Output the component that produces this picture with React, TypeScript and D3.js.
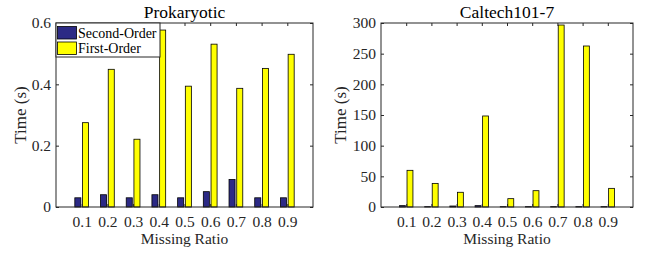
import React, { useRef, useEffect } from "react";
import { select, scaleLinear, axisBottom, axisLeft, axisTop, axisRight } from "d3";

const ratios = [0.1, 0.2, 0.3, 0.4, 0.5, 0.6, 0.7, 0.8, 0.9];
const ratioLabels = ["0.1", "0.2", "0.3", "0.4", "0.5", "0.6", "0.7", "0.8", "0.9"];

const seriesNames = ["Second-Order", "First-Order"];
const seriesColors = ["#2c2a85", "#ffff00"];

const prokSecond = [0.03, 0.04, 0.03, 0.04, 0.03, 0.05, 0.09, 0.03, 0.03];
const prokFirst = [0.275, 0.449, 0.221, 0.577, 0.394, 0.531, 0.387, 0.452, 0.498];
const prokTicks = [0, 0.2, 0.4, 0.6];
const prokTickLabels = ["0", "0.2", "0.4", "0.6"];

const caltechSecond = [2.2, 0.6, 1.6, 2.2, 0.6, 0.6, 0.6, 0.6, 0.6];
const caltechFirst = [59.8, 38.5, 24, 148.4, 13.6, 26.6, 296.7, 262.5, 30.4];
const caltechTicks = [0, 50, 100, 150, 200, 250, 300];
const caltechTickLabels = ["0", "50", "100", "150", "200", "250", "300"];

const FONT = "'Liberation Serif', 'Times New Roman', serif";
const INK = "#262626";

const drawPanel = (svg, p) => {
  const { left, right, top, bottom } = p.frame;
  const x = scaleLinear().domain([0, 1]).range([left, right]);
  const y = scaleLinear().domain([0, p.yMax]).range([bottom, top]);
  const step = x(0.1) - x(0);
  const barW = step * 0.235;
  const offsets = [-step * 0.15, step * 0.15];

  const g = svg.append("g");

  // bars
  [p.second, p.first].forEach((values, i) => {
    g.selectAll(null)
      .data(values)
      .join("rect")
      .attr("x", (d, j) => x(ratios[j]) + offsets[i] - barW / 2)
      .attr("width", barW)
      .attr("y", d => y(d))
      .attr("height", d => y(0) - y(d))
      .attr("fill", seriesColors[i])
      .attr("stroke", "#000")
      .attr("stroke-width", 0.8);
  });

  const styleAxis = (a, fontSize) => {
    a.select(".domain").remove();
    a.selectAll("line").attr("stroke", INK);
    a.selectAll("text")
      .attr("fill", INK)
      .attr("font-family", FONT)
      .attr("font-size", fontSize);
  };

  const tick = 3;
  g.append("g")
    .attr("transform", `translate(0,${bottom})`)
    .call(
      axisBottom(x)
        .tickValues(ratios)
        .tickFormat((d, i) => ratioLabels[i])
        .tickSizeInner(-tick)
        .tickSizeOuter(0)
        .tickPadding(9)
    )
    .call(a => styleAxis(a, 15.5));

  g.append("g")
    .attr("transform", `translate(0,${top})`)
    .call(axisTop(x).tickValues(ratios).tickFormat("").tickSizeInner(-tick).tickSizeOuter(0))
    .call(a => styleAxis(a, 0));

  g.append("g")
    .attr("transform", `translate(${left},0)`)
    .call(
      axisLeft(y)
        .tickValues(p.ticks)
        .tickFormat((d, i) => p.tickLabels[i])
        .tickSizeInner(-tick)
        .tickSizeOuter(0)
        .tickPadding(5)
    )
    .call(a => styleAxis(a, 15.5));

  g.append("g")
    .attr("transform", `translate(${right},0)`)
    .call(axisRight(y).tickValues(p.ticks).tickFormat("").tickSizeInner(-tick).tickSizeOuter(0))
    .call(a => styleAxis(a, 0));

  g.append("rect")
    .attr("x", left)
    .attr("y", top)
    .attr("width", right - left)
    .attr("height", bottom - top)
    .attr("fill", "none")
    .attr("stroke", INK)
    .attr("stroke-width", 1);

  const cx = (left + right) / 2;
  g.append("text")
    .attr("x", cx)
    .attr("y", 17.5)
    .attr("text-anchor", "middle")
    .attr("font-family", FONT)
    .attr("font-size", 17.5)
    .attr("fill", "#000")
    .text(p.title);

  g.append("text")
    .attr("x", cx)
    .attr("y", 243.5)
    .attr("text-anchor", "middle")
    .attr("font-family", FONT)
    .attr("font-size", 15.5)
    .attr("fill", INK)
    .text("Missing Ratio");

  g.append("text")
    .attr("transform", `translate(${p.ylabelX},${(top + bottom) / 2}) rotate(-90)`)
    .attr("text-anchor", "middle")
    .attr("font-family", FONT)
    .attr("font-size", 17)
    .attr("fill", INK)
    .text("Time (s)");

  if (p.legend) {
    const lg = g.append("g").attr("transform", `translate(${left},${top})`);
    lg.append("rect")
      .attr("width", 104)
      .attr("height", 34)
      .attr("fill", "#fff")
      .attr("stroke", INK)
      .attr("stroke-width", 1);
    seriesNames.forEach((name, i) => {
      lg.append("rect")
        .attr("x", 1.5)
        .attr("y", 3.5 + i * 15.5)
        .attr("width", 19)
        .attr("height", 12.5)
        .attr("fill", seriesColors[i])
        .attr("stroke", "#000")
        .attr("stroke-width", 0.8);
      lg.append("text")
        .attr("x", 22)
        .attr("y", 14.5 + i * 15.3)
        .attr("font-family", FONT)
        .attr("font-size", 14)
        .attr("fill", "#000")
        .text(name);
    });
  }
};

export default function App() {
  const svgRef = useRef(null);

  useEffect(() => {
    const svg = select(svgRef.current);
    svg.selectAll("*").remove();
    drawPanel(svg, {
      title: "Prokaryotic",
      frame: { left: 56, right: 313, top: 23, bottom: 207 },
      yMax: 0.6,
      ticks: prokTicks,
      tickLabels: prokTickLabels,
      second: prokSecond,
      first: prokFirst,
      ylabelX: 26,
      legend: true,
    });
    drawPanel(svg, {
      title: "Caltech101-7",
      frame: { left: 381, right: 633, top: 23, bottom: 207 },
      yMax: 300,
      ticks: caltechTicks,
      tickLabels: caltechTickLabels,
      second: caltechSecond,
      first: caltechFirst,
      ylabelX: 346,
      legend: false,
    });
  }, []);

  return (
    <svg
      ref={svgRef}
      width={645}
      height={255}
      style={{ position: "absolute", left: 0, top: 0, background: "#fff" }}
    />
  );
}
